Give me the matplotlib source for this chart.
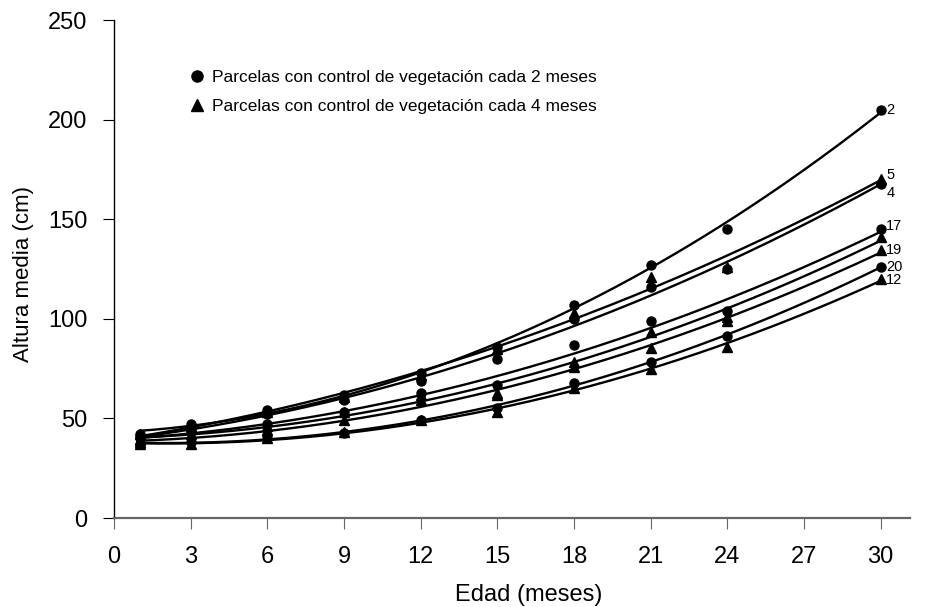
import numpy as np
import matplotlib
matplotlib.use('Agg')
import matplotlib.pyplot as plt
from matplotlib.lines import Line2D

plt.rcParams['font.family'] = ['Liberation Sans', 'DejaVu Sans']

# Edad de medición (meses)
edad = [1, 3, 6, 9, 12, 15, 18, 21, 24, 30]

# Altura media observada (cm) por parcela
p2 = [42, 47, 54, 62, 73, 86, 107, 127, 145, 205]
p5 = [42, 46, 53, 61, 72, 85, 103, 121, 126, 170]
p4 = [41, 45, 52, 59, 69, 80, 100, 116, 125, 167.5]
p17 = [40, 43, 47, 53, 63, 67, 87, 99, 104, 145]
p_sin = [39, 42, 46, 53, 62, 63, 78.5, 93.5, 101, 141]
p19 = [38, 40, 44, 49, 59, 62, 76, 85.5, 99, 134.5]
p20 = [37, 38, 41, 42.5, 49, 55, 68, 78.5, 91.5, 126]
p12 = [37, 37, 40, 43, 49, 53, 65.5, 75, 86, 120]

# parcela: (datos, marcador, etiqueta, desplazamiento de etiqueta en pt)
parcelas = [
    (p2, 'o', '2', (4, 0)),
    (p5, '^', '5', (4, 3)),
    (p4, 'o', '4', (4, -6)),
    (p17, 'o', '17', (4, 2)),
    (p_sin, '^', '', (4, 0)),
    (p19, '^', '19', (4, 0)),
    (p20, 'o', '20', (4, 0)),
    (p12, '^', '12', (4, -1)),
]

fig = plt.figure(figsize=(9.25, 6.07), dpi=100)
ax = fig.add_axes([0.1232, 0.1466, 0.8606, 0.8204])

x_fit = np.linspace(edad[0], edad[-1], 200)
for datos, marca, etiqueta, off in parcelas:
    # linea de tendencia polinomica de grado 2
    coef = np.polyfit(edad, datos, 2)
    ax.plot(x_fit, np.polyval(coef, x_fit), color='black', lw=1.7, zorder=2)
    ax.plot(edad, datos, linestyle='none', marker=marca, color='black',
            markersize=6.5, zorder=3)
    if etiqueta:
        ax.annotate(etiqueta, (edad[-1], datos[-1]), xytext=off,
                    textcoords='offset points', ha='left', va='center',
                    fontsize=10.5)

ax.set_xlim(0, 31.15)
ax.set_ylim(0, 250)
ax.set_xticks(range(0, 31, 3))
ax.set_yticks(range(0, 251, 50))
ax.tick_params(axis='both', labelsize=17, length=8, direction='out')
ax.tick_params(axis='x', colors='#666666', labelcolor='black', pad=12)
ax.tick_params(axis='y', pad=11)

ax.spines['top'].set_visible(False)
ax.spines['right'].set_visible(False)
ax.spines['bottom'].set_color('#666666')
ax.spines['bottom'].set_linewidth(1.6)
ax.spines['left'].set_linewidth(1.0)

ax.set_xlabel('Edad (meses)', fontsize=17)
ax.xaxis.set_label_coords(0.521, -0.1335)
ax.set_ylabel('Altura media (cm)', fontsize=16)
ax.yaxis.set_label_coords(-0.100, 0.49)

handles = [
    Line2D([], [], linestyle='none', marker='o', color='black', markersize=8),
    Line2D([], [], linestyle='none', marker='^', color='black', markersize=8),
]
labels = ['Parcelas con control de vegetación cada 2 meses',
          'Parcelas con control de vegetación cada 4 meses']
ax.legend(handles, labels, loc='upper left', bbox_to_anchor=(0.095, 0.9),
          frameon=False, fontsize=12.5, handlelength=0.8, handletextpad=0.5,
          labelspacing=0.8, borderpad=0, borderaxespad=0)

fig.savefig('out.png', dpi=100)
